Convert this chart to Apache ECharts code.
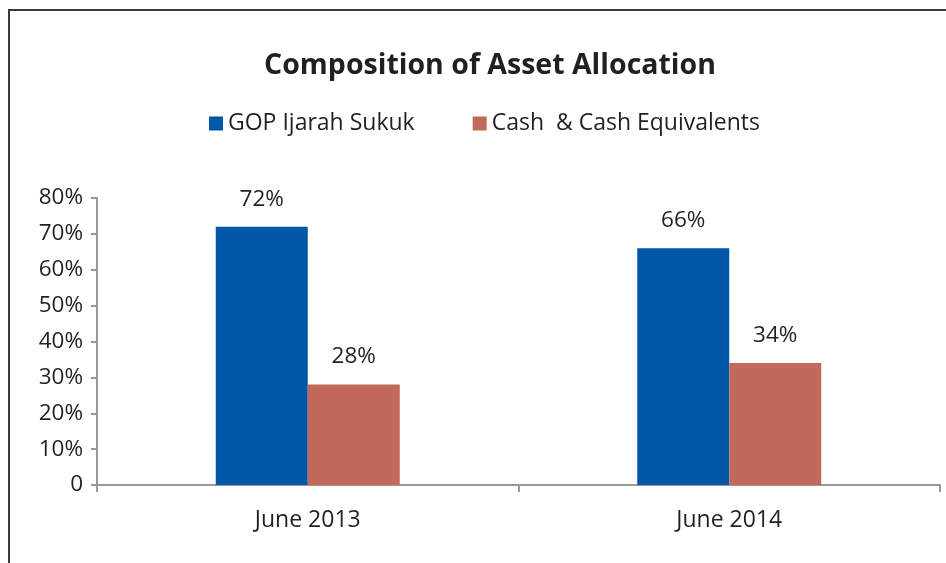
<!DOCTYPE html>
<html>
<head>
<meta charset="utf-8">
<style>
    html, body { margin: 0; padding: 0; background: #fff; }
    #chart { width: 946px; height: 563px; }
</style>
</head>
<body>
<div id="chart"></div>
<script src="https://cdn.jsdelivr.net/npm/echarts@6/dist/echarts.min.js"></script>
<script type="text/javascript">
    // 数据
    var categories = ['June 2013', 'June 2014'];
    var sukukData = [72, 66];
    var cashData = [28, 34];
    var seriesNames = ['GOP Ijarah Sukuk', 'Cash  & Cash Equivalents'];

    var fontName = 'Open Sans';
    var textColor = '#231f20';

    var myChart = echarts.init(document.getElementById('chart'));

    var option = {
        backgroundColor: '#fff',
        animation: false,
        textStyle: { fontFamily: fontName },
        title: {
            text: 'Composition of Asset Allocation',
            left: 485,
            top: 46,
            textAlign: 'center',
            textStyle: {
                fontFamily: fontName,
                fontSize: 28.5,
                fontWeight: 'bold',
                color: textColor
            }
        },
        legend: {
            top: 107,
            left: 204,
            itemWidth: 14,
            itemHeight: 14,
            itemGap: 58,
            icon: 'rect',
            data: seriesNames,
            textStyle: { fontSize: 23, color: textColor, fontFamily: fontName }
        },
        graphic: [{
            type: 'rect',
            shape: { x: 9, y: 10, width: 960, height: 600 },
            style: { fill: 'none', stroke: '#3a3a3a', lineWidth: 2 },
            silent: true
        }],
        grid: {
            left: 97,
            right: 6,
            top: 198,
            bottom: 78,
            containLabel: false
        },
        xAxis: {
            type: 'category',
            data: categories,
            axisLine: { lineStyle: { color: '#999', width: 2 } },
            axisTick: { show: true, length: 7, lineStyle: { color: '#999', width: 2 } },
            axisLabel: { fontSize: 23, color: textColor, margin: 24 }
        },
        yAxis: {
            type: 'value',
            min: 0,
            max: 80,
            interval: 10,
            axisLine: { show: true, lineStyle: { color: '#999', width: 2 } },
            axisTick: { show: true, inside: false, length: 6, lineStyle: { color: '#999', width: 2 } },
            splitLine: { show: false },
            axisLabel: {
                fontSize: 22.5,
                color: textColor,
                margin: 14,
                formatter: function (v) { return v === 0 ? '0' : v + '%'; }
            }
        },
        series: [
            {
                name: seriesNames[0],
                type: 'bar',
                barWidth: 92,
                barGap: '0%',
                data: sukukData,
                itemStyle: { color: '#0057a8' },
                label: {
                    show: true,
                    position: 'top',
                    distance: 16,
                    fontSize: 22.5,
                    color: textColor,
                    formatter: '{c}%'
                }
            },
            {
                name: seriesNames[1],
                type: 'bar',
                barWidth: 92,
                barGap: '0%',
                data: cashData,
                itemStyle: { color: '#c1695a' },
                label: {
                    show: true,
                    position: 'top',
                    distance: 16,
                    fontSize: 22.5,
                    color: textColor,
                    formatter: '{c}%'
                }
            }
        ]
    };
    myChart.setOption(option);
</script>
</body>
</html>
